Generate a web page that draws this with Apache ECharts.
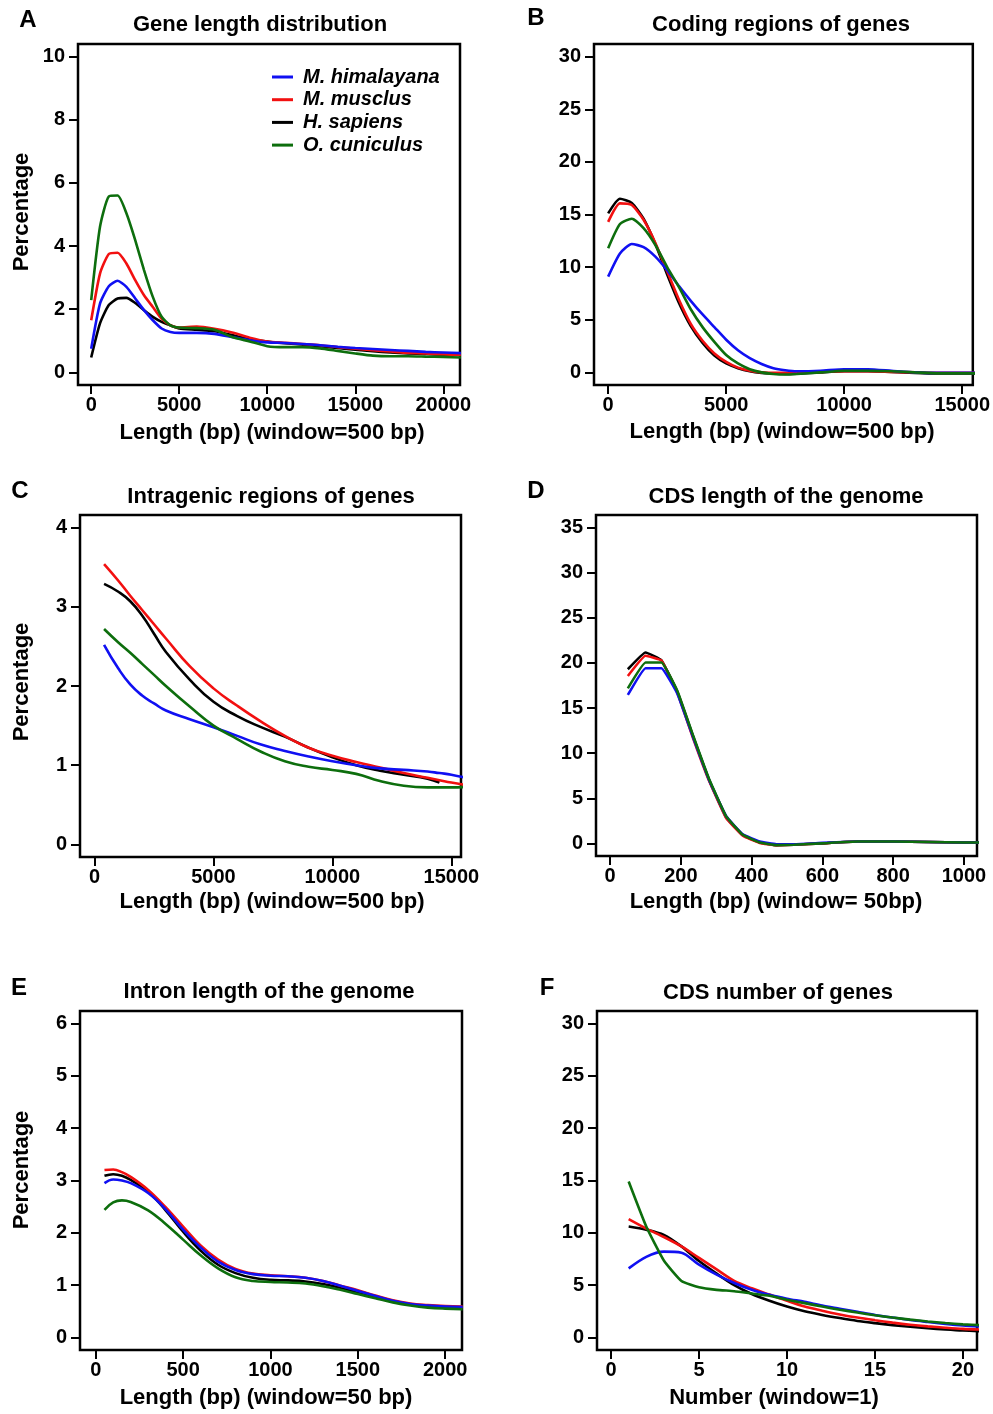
<!DOCTYPE html>
<html>
<head>
<meta charset="utf-8">
<script src="https://cdn.jsdelivr.net/npm/echarts@6/dist/echarts.min.js"></script>
<style>
  html, body { margin: 0; padding: 0; background: #fff; }
  #chart { width: 993px; height: 1414px; }
</style>
</head>
<body>
<div id="chart"></div>
<script>
// ---------------- DATA ----------------
const speciesNames = ['M. himalayana', 'M. musclus', 'H. sapiens', 'O. cuniculus'];

// Panel A: Gene length distribution
const A_x = [0,500,1000,1500,2000,2500,3000,3500,4000,4500,5000,6000,7000,8000,9000,10000,11000,12000,13000,14000,15000,16000,17000,18000,19000,20000,21000];
const A_blue  = [0.75,2.18,2.73,2.90,2.71,2.34,1.97,1.65,1.39,1.28,1.25,1.25,1.22,1.12,1.02,0.95,0.93,0.90,0.86,0.81,0.77,0.74,0.71,0.68,0.65,0.63,0.61];
const A_red   = [1.65,3.13,3.75,3.79,3.45,2.92,2.44,2.07,1.70,1.49,1.42,1.45,1.38,1.26,1.10,0.98,0.94,0.90,0.86,0.80,0.75,0.70,0.66,0.62,0.60,0.57,0.56];
const A_black = [0.47,1.55,2.13,2.34,2.36,2.20,1.97,1.76,1.60,1.49,1.39,1.35,1.30,1.18,1.05,0.98,0.92,0.88,0.83,0.77,0.72,0.67,0.63,0.60,0.58,0.56,0.55];
const A_green = [2.29,4.61,5.57,5.60,5.04,4.19,3.24,2.39,1.76,1.49,1.42,1.40,1.35,1.12,0.98,0.83,0.80,0.80,0.76,0.68,0.60,0.53,0.51,0.51,0.50,0.49,0.47];

// Panel B: Coding regions of genes
const B_x = [0,500,1000,1500,2000,2500,3000,3500,4000,4500,5000,5500,6000,6500,7000,7500,8000,9000,10000,11000,12000,13000,14000,15000,16000];
const B_blue  = [9.1,11.3,12.2,11.9,11.0,9.7,8.2,6.8,5.5,4.3,3.1,2.1,1.35,0.8,0.4,0.2,0.1,0.15,0.3,0.3,0.15,0.0,-0.05,-0.05,-0.05];
const B_red   = [14.3,16.06,15.9,14.5,12.3,9.6,6.9,4.6,3.0,1.8,1.0,0.45,0.15,0.0,-0.05,-0.05,0.0,0.05,0.1,0.1,0.05,0.0,-0.05,-0.05,-0.05];
const B_black = [15.1,16.5,16.1,14.6,12.2,9.3,6.6,4.4,2.8,1.6,0.85,0.4,0.1,-0.05,-0.1,-0.15,-0.12,0.0,0.1,0.1,0.05,-0.05,-0.1,-0.1,-0.1];
const B_green = [11.8,14.1,14.6,13.7,12.1,10.0,8.1,6.0,4.3,2.9,1.65,0.85,0.3,0.0,-0.15,-0.2,-0.15,0.0,0.15,0.15,0.1,0.0,-0.1,-0.1,-0.1];

// Panel C: Intragenic regions of genes
const C_x = [400,1000,1500,2000,2500,3000,4000,5000,6000,7000,8000,9000,10000,11000,12000,13000,14000,14500,15000,16000];
const C_blue  = [2.52,2.22,2.02,1.88,1.78,1.69,1.58,1.48,1.37,1.26,1.18,1.11,1.05,1.00,0.96,0.94,0.92,0.90,0.88,0.81];
const C_red   = [3.54,3.33,3.14,2.96,2.78,2.60,2.25,1.97,1.75,1.55,1.37,1.22,1.12,1.04,0.97,0.90,0.84,0.81,0.78,0.73];
const C_black = [3.29,3.19,3.07,2.89,2.66,2.43,2.08,1.80,1.62,1.48,1.36,1.22,1.10,1.00,0.93,0.88,0.83,0.78,null,null];
const C_green = [2.72,2.55,2.42,2.28,2.14,2.00,1.74,1.50,1.33,1.17,1.05,0.98,0.94,0.89,0.80,0.74,0.72,0.72,0.72,0.73];

// Panel D: CDS length of the genome
const D_x = [50,100,145,190,235,280,328,375,423,470,520,600,700,800,900,1000,1050];
const D_blue  = [16.45,19.42,19.42,16.6,11.7,7.0,3.0,1.0,0.2,-0.1,-0.1,0.05,0.2,0.2,0.15,0.1,0.1];
const D_red   = [18.56,20.8,20.27,16.7,11.6,6.9,2.8,0.85,0.05,-0.2,-0.15,0.0,0.2,0.2,0.15,0.1,0.1];
const D_black = [19.3,21.16,20.3,16.8,11.8,7.0,2.9,0.9,0.1,-0.2,-0.15,0.0,0.2,0.2,0.15,0.1,0.1];
const D_green = [17.19,20.05,20.05,16.9,11.9,7.1,3.0,0.95,0.1,-0.2,-0.15,0.0,0.2,0.2,0.15,0.1,0.1];

// Panel E: Intron length of the genome
const E_x = [50,100,150,200,300,400,500,600,700,800,900,1000,1100,1200,1300,1400,1500,1600,1700,1800,1900,2000,2100];
const E_blue  = [2.95,3.02,3.00,2.95,2.76,2.45,2.06,1.72,1.45,1.29,1.21,1.18,1.17,1.14,1.08,0.99,0.89,0.79,0.70,0.64,0.61,0.59,0.58];
const E_red   = [3.20,3.21,3.16,3.07,2.82,2.49,2.12,1.76,1.49,1.31,1.22,1.19,1.17,1.14,1.08,0.99,0.90,0.80,0.71,0.65,0.62,0.60,0.59];
const E_black = [3.09,3.12,3.09,3.01,2.79,2.43,2.02,1.66,1.39,1.23,1.14,1.10,1.09,1.07,1.02,0.95,0.86,0.77,0.69,0.63,0.60,0.58,0.57];
const E_green = [2.44,2.58,2.62,2.59,2.43,2.17,1.87,1.57,1.32,1.15,1.08,1.06,1.05,1.03,0.98,0.91,0.83,0.75,0.67,0.61,0.57,0.55,0.54];

// Panel F: CDS number of genes
const F_x = [1,2,3,4,5,6,7,8,9,10,11,12,13,14,15,16,17,18,19,20,21];
const F_blue  = [6.6,7.7,8.2,8.1,6.95,6.0,5.2,4.55,4.07,3.7,3.4,3.05,2.75,2.45,2.15,1.9,1.67,1.48,1.3,1.15,1.05];
const F_red   = [11.3,10.4,9.6,8.7,7.6,6.5,5.4,4.7,4.1,3.5,2.95,2.55,2.2,1.9,1.65,1.42,1.22,1.06,0.93,0.82,0.76];
const F_black = [10.6,10.3,9.8,8.7,7.3,6.1,5.0,4.15,3.5,2.95,2.5,2.15,1.85,1.58,1.37,1.18,1.02,0.88,0.76,0.66,0.6];
const F_green = [14.9,10.6,7.35,5.4,4.8,4.55,4.42,4.2,3.98,3.6,3.28,2.95,2.65,2.38,2.12,1.9,1.7,1.53,1.38,1.25,1.17];

// Tick labels
const A_xTicks = [0,5000,10000,15000,20000];
const A_yTicks = [0,2,4,6,8,10];
const B_xTicks = [0,5000,10000,15000];
const B_yTicks = [0,5,10,15,20,25,30];
const C_xTicks = [0,5000,10000,15000];
const C_yTicks = [0,1,2,3,4];
const D_xTicks = [0,200,400,600,800,1000];
const D_yTicks = [0,5,10,15,20,25,30,35];
const E_xTicks = [0,500,1000,1500,2000];
const E_yTicks = [0,1,2,3,4,5,6];
const F_xTicks = [0,5,10,15,20];
const F_yTicks = [0,5,10,15,20,25,30];

// Text
const panelLetters = ['A','B','C','D','E','F'];
const panelTitles = ['Gene length distribution','Coding regions of genes','Intragenic regions of genes','CDS length of the genome','Intron length of the genome','CDS number of genes'];
const xTitles = ['Length (bp) (window=500 bp)','Length (bp) (window=500 bp)','Length (bp) (window=500 bp)','Length (bp) (window= 50bp)','Length (bp) (window=50 bp)','Number (window=1)'];
const yTitle = 'Percentage';

// ---------------- LAYOUT / STYLE ----------------
const FONT = '"Liberation Sans", Arial, Helvetica, sans-serif';
const COLORS = { blue: '#1010f2', red: '#f21010', black: '#000000', green: '#0d6e0d' };

const panels = [
  { grid: {left: 78, top: 44, width: 382, height: 341}, xr: [-750, 20950], yr: [-0.4, 10.4], x: A_x, s: {blue: A_blue, red: A_red, black: A_black, green: A_green}, xt: A_xTicks, yt: A_yTicks, smooth: 0.2,
    letter: [28, 20], title: [260, 25], xname: [272, 433], yname: [22, 212] },
  { grid: {left: 594, top: 44, width: 380, height: 341}, xr: [-600, 15450], yr: [-1.2, 31.2], x: B_x, s: {blue: B_blue, red: B_red, black: B_black, green: B_green}, xt: B_xTicks, yt: B_yTicks, smooth: 0.2,
    letter: [536, 18], title: [781, 25], xname: [782, 432], yname: null },
  { grid: {left: 80, top: 515, width: 381, height: 342}, xr: [-612, 15406], yr: [-0.16, 4.16], x: C_x, s: {blue: C_blue, red: C_red, black: C_black, green: C_green}, xt: C_xTicks, yt: C_yTicks, smooth: 0.5,
    letter: [20, 491], title: [271, 497], xname: [272, 902], yname: [22, 682] },
  { grid: {left: 596, top: 515, width: 381, height: 341}, xr: [-40, 1037], yr: [-1.4, 36.4], x: D_x, s: {blue: D_blue, red: D_red, black: D_black, green: D_green}, xt: D_xTicks, yt: D_yTicks, smooth: 0.1,
    letter: [536, 491], title: [786, 497], xname: [776, 902], yname: null },
  { grid: {left: 80, top: 1011, width: 382, height: 339}, xr: [-90, 2096], yr: [-0.24, 6.24], x: E_x, s: {blue: E_blue, red: E_red, black: E_black, green: E_green}, xt: E_xTicks, yt: E_yTicks, smooth: 0.4,
    letter: [19, 988], title: [269, 992], xname: [266, 1398], yname: [22, 1170] },
  { grid: {left: 597, top: 1011, width: 380, height: 339}, xr: [-0.8, 20.8], yr: [-1.2, 31.2], x: F_x, s: {blue: F_blue, red: F_red, black: F_black, green: F_green}, xt: F_xTicks, yt: F_yTicks, smooth: 0.3,
    letter: [547, 988], title: [778, 993], xname: [774, 1398], yname: null }
];

const seriesKeys = [ // drawing order (bottom -> top)
  { key: 'black', name: speciesNames[2] },
  { key: 'red',   name: speciesNames[1] },
  { key: 'blue',  name: speciesNames[0] },
  { key: 'green', name: speciesNames[3] }
];

const grids = [], xAxes = [], yAxes = [], series = [], graphics = [];
const labelStyle = { fontSize: 20, fontWeight: 'bold', color: '#000', fontFamily: FONT, formatter: v => String(v) };
const tickStyle = { color: '#000', width: 2 };

panels.forEach((p, i) => {
  grids.push(Object.assign({ show: true, borderColor: '#000', borderWidth: 2.5, backgroundColor: 'transparent' }, p.grid));
  xAxes.push({
    type: 'value', gridIndex: i, min: p.xr[0], max: p.xr[1], position: 'bottom',
    axisLine: { show: false, onZero: false },
    axisTick: { show: true, inside: false, length: 9, lineStyle: tickStyle, customValues: p.xt },
    axisLabel: Object.assign({ customValues: p.xt, margin: 10 }, labelStyle),
    splitLine: { show: false }
  });
  yAxes.push({
    type: 'value', gridIndex: i, min: p.yr[0], max: p.yr[1], position: 'left',
    axisLine: { show: false, onZero: false },
    axisTick: { show: true, inside: false, length: 9, lineStyle: tickStyle, customValues: p.yt },
    axisLabel: Object.assign({ customValues: p.yt, margin: 13 }, labelStyle),
    splitLine: { show: false }
  });
  seriesKeys.forEach(sk => {
    const ys = p.s[sk.key];
    const isAngular = (i === 5 && sk.key === 'green');
    series.push({
      type: 'line', name: sk.name, xAxisIndex: i, yAxisIndex: i,
      data: p.x.map((x, k) => [x, ys[k]]),
      showSymbol: false, symbol: 'none', smooth: isAngular ? 0.15 : p.smooth,
      connectNulls: false, clip: true,
      lineStyle: { color: COLORS[sk.key], width: 2.6 },
      itemStyle: { color: COLORS[sk.key] },
      animation: false
    });
  });
  graphics.push({ type: 'text', x: p.letter[0], y: p.letter[1],
    style: { text: panelLetters[i], font: 'bold 24px ' + FONT, fill: '#000', align: 'center', verticalAlign: 'middle', textAlign: 'center', textVerticalAlign: 'middle' } });
  graphics.push({ type: 'text', x: p.title[0], y: p.title[1],
    style: { text: panelTitles[i], font: 'bold 22px ' + FONT, fill: '#000', align: 'center', verticalAlign: 'middle', textAlign: 'center', textVerticalAlign: 'middle' } });
  graphics.push({ type: 'text', x: p.xname[0], y: p.xname[1],
    style: { text: xTitles[i], font: 'bold 22px ' + FONT, fill: '#000', align: 'center', verticalAlign: 'middle', textAlign: 'center', textVerticalAlign: 'middle' } });
  if (p.yname) {
    graphics.push({ type: 'text', x: p.yname[0], y: p.yname[1], rotation: Math.PI / 2,
      style: { text: yTitle, font: 'bold 22px ' + FONT, fill: '#000', align: 'center', verticalAlign: 'middle', textAlign: 'center', textVerticalAlign: 'middle' } });
  }
});

const chart = echarts.init(document.getElementById('chart'), null, { renderer: 'canvas', width: 993, height: 1414 });
chart.setOption({
  backgroundColor: '#ffffff',
  animation: false,
  grid: grids,
  xAxis: xAxes,
  yAxis: yAxes,
  series: series,
  legend: {
    data: speciesNames,
    orient: 'vertical', left: 267, top: 62,
    icon: 'rect', itemWidth: 21, itemHeight: 3, itemGap: 2.7,
    selectedMode: false,
    textStyle: { fontSize: 20, fontWeight: 'bold', fontStyle: 'italic', color: '#000', fontFamily: FONT, lineHeight: 20, padding: [0, 0, 0, 5] }
  },
  graphic: { elements: graphics }
});
</script>
</body>
</html>
